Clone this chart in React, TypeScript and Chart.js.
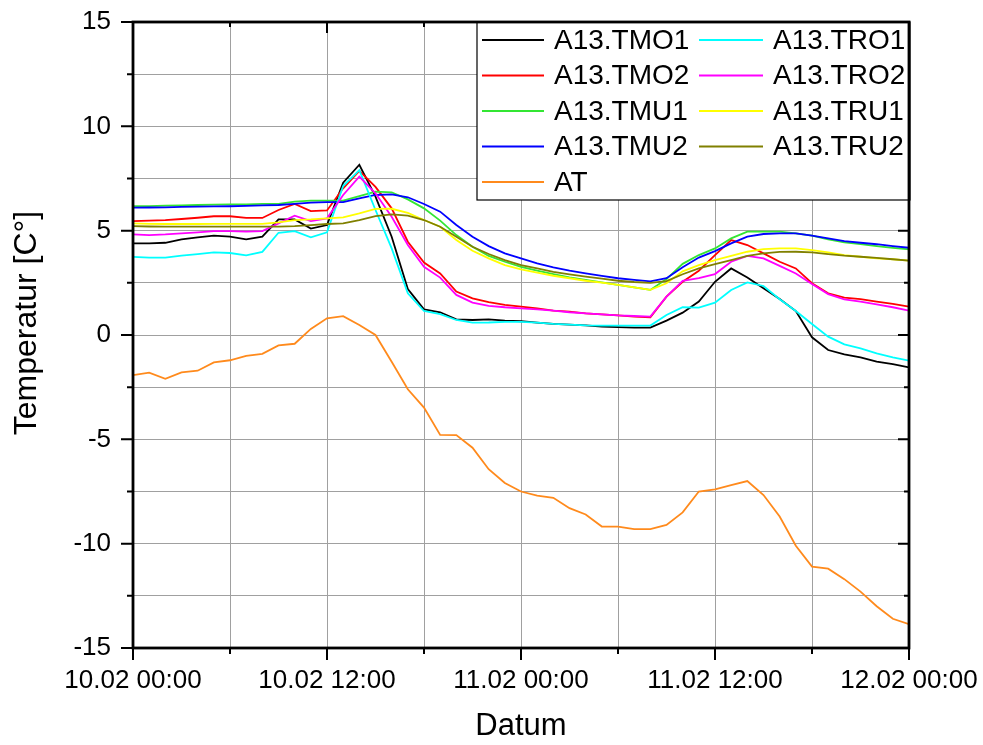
import React, { useEffect, useRef } from 'react';
import { Chart, registerables } from 'chart.js';

Chart.register(...registerables);

const FONT = '"Liberation Sans", Arial, sans-serif';

// hours since 10.02 00:00
const hours = Array.from({ length: 49 }, (_, i) => i);
const xTickLabels = ['10.02 00:00', '10.02 12:00', '11.02 00:00', '11.02 12:00', '12.02 00:00'];

const TMO1 = [4.39, 4.39, 4.42, 4.58, 4.68, 4.76, 4.71, 4.58, 4.71, 5.54, 5.54, 5.1, 5.27, 7.3, 8.16, 6.63, 4.71, 2.2, 1.23, 1.09, 0.75, 0.72, 0.75, 0.69, 0.66, 0.59, 0.53, 0.5, 0.46, 0.4, 0.38, 0.35, 0.35, 0.69, 1.07, 1.6, 2.55, 3.19, 2.76, 2.24, 1.72, 1.15, -0.11, -0.72, -0.93, -1.07, -1.28, -1.4, -1.55];
const TMO2 = [5.46, 5.48, 5.51, 5.56, 5.62, 5.69, 5.69, 5.61, 5.61, 5.99, 6.28, 5.94, 5.97, 7.03, 7.87, 7.1, 6.07, 4.47, 3.47, 2.95, 2.08, 1.76, 1.57, 1.44, 1.36, 1.28, 1.17, 1.12, 1.04, 0.99, 0.94, 0.88, 0.85, 1.84, 2.55, 3.08, 3.83, 4.55, 4.31, 3.91, 3.51, 3.19, 2.48, 2.0, 1.79, 1.72, 1.6, 1.49, 1.36];
const TMU1 = [6.18, 6.18, 6.2, 6.21, 6.23, 6.25, 6.26, 6.26, 6.28, 6.28, 6.39, 6.44, 6.44, 6.44, 6.66, 6.87, 6.84, 6.5, 6.07, 5.48, 4.79, 4.23, 3.79, 3.51, 3.27, 3.08, 2.92, 2.76, 2.64, 2.52, 2.4, 2.28, 2.16, 2.68, 3.41, 3.83, 4.15, 4.63, 4.95, 4.95, 4.95, 4.87, 4.76, 4.58, 4.44, 4.35, 4.26, 4.18, 4.1];
const TMU2 = [6.1, 6.11, 6.12, 6.14, 6.15, 6.16, 6.17, 6.19, 6.21, 6.23, 6.28, 6.34, 6.37, 6.37, 6.55, 6.71, 6.74, 6.6, 6.28, 5.91, 5.27, 4.71, 4.26, 3.91, 3.67, 3.43, 3.24, 3.08, 2.95, 2.83, 2.72, 2.64, 2.57, 2.72, 3.25, 3.71, 4.02, 4.39, 4.71, 4.84, 4.87, 4.87, 4.76, 4.63, 4.5, 4.42, 4.35, 4.26, 4.18];
const AT = [-1.92, -1.8, -2.1, -1.79, -1.71, -1.31, -1.21, -1.0, -0.9, -0.5, -0.42, 0.29, 0.8, 0.9, 0.48, 0.0, -1.28, -2.6, -3.48, -4.79, -4.8, -5.4, -6.43, -7.09, -7.5, -7.7, -7.8, -8.3, -8.6, -9.18, -9.18, -9.3, -9.3, -9.1, -8.5, -7.5, -7.4, -7.2, -7.0, -7.67, -8.7, -10.1, -11.1, -11.2, -11.7, -12.3, -13.0, -13.6, -13.86];
const TRO1 = [3.74, 3.71, 3.71, 3.8, 3.88, 3.96, 3.93, 3.82, 3.98, 4.9, 4.98, 4.68, 4.92, 7.14, 7.9, 5.99, 4.15, 2.0, 1.15, 1.0, 0.72, 0.59, 0.6, 0.63, 0.63, 0.59, 0.53, 0.5, 0.46, 0.45, 0.45, 0.45, 0.45, 0.96, 1.33, 1.31, 1.55, 2.16, 2.52, 2.35, 1.71, 1.15, 0.53, -0.08, -0.45, -0.64, -0.88, -1.07, -1.23];
const TRO2 = [4.82, 4.79, 4.82, 4.87, 4.92, 4.98, 4.98, 4.95, 4.98, 5.35, 5.72, 5.46, 5.59, 6.71, 7.59, 6.79, 5.67, 4.31, 3.27, 2.75, 1.92, 1.55, 1.4, 1.33, 1.28, 1.23, 1.17, 1.09, 1.04, 0.99, 0.94, 0.91, 0.88, 1.84, 2.59, 2.72, 2.92, 3.51, 3.79, 3.67, 3.31, 2.95, 2.44, 1.96, 1.71, 1.6, 1.47, 1.33, 1.17];
const TRU1 = [5.35, 5.33, 5.32, 5.32, 5.32, 5.33, 5.33, 5.33, 5.33, 5.4, 5.51, 5.54, 5.59, 5.64, 5.83, 6.04, 6.05, 5.85, 5.51, 5.19, 4.55, 4.04, 3.67, 3.35, 3.15, 2.99, 2.84, 2.72, 2.6, 2.51, 2.4, 2.28, 2.16, 2.48, 3.05, 3.35, 3.59, 3.79, 3.99, 4.12, 4.15, 4.15, 4.07, 3.96, 3.83, 3.75, 3.67, 3.63, 3.56];
const TRU2 = [5.22, 5.2, 5.19, 5.19, 5.19, 5.19, 5.19, 5.19, 5.19, 5.19, 5.22, 5.27, 5.32, 5.35, 5.51, 5.7, 5.78, 5.72, 5.51, 5.19, 4.71, 4.23, 3.88, 3.59, 3.35, 3.19, 3.03, 2.91, 2.8, 2.7, 2.6, 2.54, 2.5, 2.58, 2.91, 3.19, 3.4, 3.59, 3.79, 3.91, 3.98, 3.99, 3.96, 3.88, 3.8, 3.75, 3.7, 3.63, 3.56];

const seriesNames = ['A13.TMO1', 'A13.TMO2', 'A13.TMU1', 'A13.TMU2', 'AT', 'A13.TRO1', 'A13.TRO2', 'A13.TRU1', 'A13.TRU2'];
const seriesValues = [TMO1, TMO2, TMU1, TMU2, AT, TRO1, TRO2, TRU1, TRU2];
const seriesColors = ['#000000', '#ff0000', '#33e633', '#0000ff', '#ff8a1c', '#00ffff', '#ff00ff', '#ffff00', '#808000'];

const yTitle = 'Temperatur [C°]';
const xTitle = 'Datum';

const originPlugin = {
  id: 'originFrame',
  afterDatasetsDraw(chart: any) {
    const { ctx, chartArea: a, scales } = chart;
    const xs = scales.x;
    const ys = scales.y;
    ctx.save();
    ctx.strokeStyle = '#000';
    ctx.lineWidth = 2;
    ctx.lineCap = 'butt';
    xs.ticks.forEach((t: any) => {
      const px = xs.getPixelForValue(t.value);
      const major = t.value % 12 === 0;
      const out = major ? 12 : 6;
      const inn = major ? 11 : 5;
      ctx.beginPath();
      ctx.moveTo(px, a.bottom);
      ctx.lineTo(px, a.bottom + out);
      ctx.moveTo(px, a.top);
      ctx.lineTo(px, a.top + inn);
      ctx.stroke();
    });
    ys.ticks.forEach((t: any) => {
      const py = ys.getPixelForValue(t.value);
      const major = Math.abs(t.value % 5) < 1e-9;
      const out = major ? 12 : 6;
      const inn = major ? 11 : 5;
      ctx.beginPath();
      ctx.moveTo(a.left, py);
      ctx.lineTo(a.left - out, py);
      ctx.moveTo(a.right, py);
      ctx.lineTo(a.right - inn, py);
      ctx.stroke();
    });

    // legend
    const lw = 433;
    const lh = 178;
    const L = a.right - lw + 1;
    const T = a.top;
    ctx.fillStyle = '#fff';
    ctx.fillRect(L, T, lw, lh);
    ctx.lineWidth = 1.2;
    ctx.strokeRect(L, T, lw, lh);
    ctx.font = `28px ${FONT}`;
    ctx.textBaseline = 'middle';
    ctx.textAlign = 'left';
    chart.data.datasets.forEach((ds: any, i: number) => {
      const col = i < 5 ? 0 : 1;
      const row = i < 5 ? i : i - 5;
      const cy = T + 18 + row * 35.5;
      const lx0 = L + (col === 0 ? 5 : 222);
      const lx1 = L + (col === 0 ? 67 : 286);
      const tx = L + (col === 0 ? 77 : 296);
      ctx.strokeStyle = ds.borderColor;
      ctx.lineWidth = 2;
      ctx.beginPath();
      ctx.moveTo(lx0, cy);
      ctx.lineTo(lx1, cy);
      ctx.stroke();
      ctx.fillStyle = '#000';
      ctx.fillText(ds.label, tx, cy + 1);
    });

    // frame
    ctx.strokeStyle = '#000';
    ctx.lineWidth = 2.8;
    ctx.strokeRect(a.left, a.top, a.right - a.left, a.bottom - a.top);

    // y title
    ctx.translate(36, 323);
    ctx.rotate(-Math.PI / 2);
    ctx.font = `32px ${FONT}`;
    ctx.textAlign = 'center';
    ctx.textBaseline = 'alphabetic';
    ctx.fillStyle = '#000';
    ctx.fillText(yTitle, 0, 0);
    ctx.restore();
  },
};

export default function App() {
  const ref = useRef<HTMLCanvasElement | null>(null);
  useEffect(() => {
    if (!ref.current) return;
    const chart = new Chart(ref.current, {
      type: 'line',
      data: {
        labels: hours,
        datasets: seriesNames.map((name, i) => ({
          label: name,
          data: seriesValues[i],
          borderColor: seriesColors[i],
          backgroundColor: seriesColors[i],
          borderWidth: 1.8,
          pointRadius: 0,
          tension: 0,
          fill: false,
          order: -i,
        })),
      },
      options: {
        animation: false,
        responsive: false,
        layout: { padding: { left: 0, top: 22, right: 74, bottom: 0 } },
        plugins: { legend: { display: false }, tooltip: { enabled: false } },
        scales: {
          x: {
            type: 'linear',
            min: 0,
            max: 48,
            afterFit: (s: any) => {
              s.height = 97;
              s.paddingLeft = 0;
              s.paddingRight = 0;
            },
            ticks: {
              stepSize: 6,
              autoSkip: false,
              maxRotation: 0,
              padding: 17,
              color: '#000',
              font: { family: FONT, size: 26 },
              callback: (v: any) => (Number(v) % 12 === 0 ? xTickLabels[Number(v) / 12] : ''),
            },
            grid: { color: '#a0a0a0', lineWidth: 1, drawTicks: false },
            border: { display: false },
            title: {
              display: true,
              text: xTitle,
              color: '#000',
              font: { family: FONT, size: 31 },
              padding: { top: 0, bottom: 0 },
            },
          },
          y: {
            type: 'linear',
            min: -15,
            max: 15,
            afterFit: (s: any) => {
              s.width = 133;
              s.paddingTop = 0;
              s.paddingBottom = 0;
            },
            ticks: {
              stepSize: 2.5,
              autoSkip: false,
              padding: 22,
              color: '#000',
              font: { family: FONT, size: 26 },
              callback: (v: any) => (Math.abs(Number(v) % 5) < 1e-9 ? String(v) : ''),
            },
            grid: { color: '#a0a0a0', lineWidth: 1, drawTicks: false },
            border: { display: false },
          },
        },
      },
      plugins: [originPlugin],
    });
    return () => chart.destroy();
  }, []);
  return (
    <div style={{ position: 'fixed', left: 0, top: 0, width: 983, height: 745, background: '#fff' }}>
      <canvas ref={ref} width={983} height={745} style={{ display: 'block' }} />
    </div>
  );
}
